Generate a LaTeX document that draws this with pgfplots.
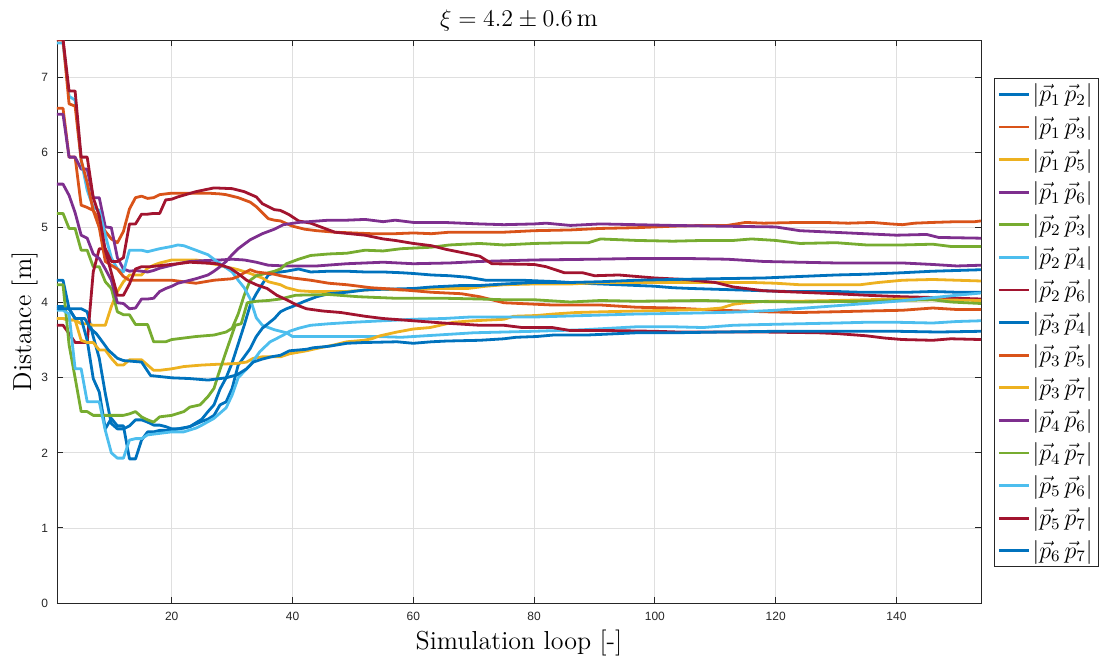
\documentclass[border=0pt]{standalone}
\usepackage{fontspec}
\setsansfont{Liberation Sans}
\usepackage{pgfplots}
\pgfplotsset{compat=1.18}
\definecolor{mblue}{rgb}{0,0.447,0.741}
\definecolor{morange}{rgb}{0.85,0.325,0.098}
\definecolor{myellow}{rgb}{0.929,0.694,0.125}
\definecolor{mpurple}{rgb}{0.494,0.184,0.556}
\definecolor{mgreen}{rgb}{0.466,0.674,0.188}
\definecolor{mlblue}{rgb}{0.301,0.745,0.933}
\definecolor{mred}{rgb}{0.635,0.078,0.184}
\definecolor{gridgray}{rgb}{0.875,0.875,0.875}
\definecolor{axisgray}{rgb}{0.15,0.15,0.15}
\begin{document}
\begin{tikzpicture}
\begin{axis}[
  scale only axis, width=462pt, height=281.5pt,
  at={(0,0)}, anchor=south west,
  xmin=1, xmax=154, ymin=0, ymax=7.5,
  xtick={20,40,...,140}, ytick={0,1,...,7},
  grid=major, major grid style={color=gridgray, line width=0.4pt},
  axis line style={color=axisgray, line width=0.45pt},
  tick style={color=axisgray, line width=0.45pt},
  tick align=inside, major tick length=3pt,
  /pgf/number format/assume math mode=true,
  ticklabel style={font=\fontsize{6}{7}\sffamily, text=axisgray},
  xticklabel style={yshift=-1pt},
  yticklabel style={xshift=-1pt},
  xlabel={Simulation loop [-]}, ylabel={Distance [m]},
  label style={font=\fontsize{13}{15}\selectfont},
  xlabel style={yshift=2pt},
  ylabel style={yshift=-5pt},
  title={$\xi = 4.2 \pm 0.6\,\mathrm{m}$},
  title style={font=\fontsize{13}{15}\selectfont, yshift=-5pt},
  legend style={at={(1.0141,0.9325)}, anchor=north west, draw=axisgray, line width=0.45pt,
    font=\fontsize{12}{14}\selectfont, fill=white, inner sep=1.5pt, row sep=3.4pt,
    nodes={inner sep=1.2pt}},
  legend cell align=left,
  legend image code/.code={\draw[#1, line width=1.4pt] (0pt,0pt) -- (15pt,0pt);},
  every axis plot/.append style={line width=1.4pt, line join=round},
]
% p1p2
\addplot[mblue] coordinates {(1,4.30)(2,4.30)(3,3.92)(4,3.92)(5,3.92)(6,3.88)(7,3.55)(8,3.26)(9,2.79)(10,2.39)(11,2.32)(12,2.32)(13,2.36)(14,2.44)(15,2.44)(16,2.41)(17,2.37)(18,2.37)(19,2.35)(20,2.32)(21,2.32)(22,2.33)(23,2.35)(24,2.40)(25,2.45)(26,2.55)(27,2.64)(28,2.85)(29,3.0)(30,3.20)(31,3.45)(32,3.70)(33,3.97)(34,4.12)(35,4.25)(36,4.37)(37,4.40)(39,4.42)(41,4.45)(43,4.41)(46,4.42)(49,4.42)(52,4.41)(55,4.41)(58,4.40)(60,4.39)(63,4.37)(66,4.36)(69,4.34)(72,4.30)(75,4.30)(78,4.30)(81,4.29)(84,4.28)(88,4.26)(91,4.25)(94,4.24)(97,4.23)(100,4.22)(103,4.20)(106,4.19)(110,4.18)(114,4.17)(118,4.16)(122,4.15)(126,4.15)(130,4.15)(134,4.14)(138,4.14)(142,4.14)(146,4.15)(150,4.14)(154,4.14)};
\addlegendentry{$|\vec{p}_1\,\vec{p}_2|$}
% p1p3
\addplot[morange] coordinates {(1,6.59)(2,6.59)(3,5.94)(4,5.94)(5,5.30)(6,5.27)(7,5.23)(8,5.10)(9,4.95)(10,4.85)(11,4.80)(12,4.95)(13,5.25)(14,5.40)(15,5.42)(16,5.39)(17,5.40)(18,5.44)(19,5.45)(20,5.46)(23,5.46)(26,5.46)(28,5.45)(29,5.44)(30,5.42)(31,5.40)(32,5.37)(33,5.34)(34,5.28)(35,5.20)(36,5.12)(37,5.10)(38,5.09)(40,5.02)(42,4.98)(44,4.96)(47,4.94)(50,4.93)(53,4.92)(57,4.92)(60,4.93)(63,4.92)(66,4.94)(71,4.94)(75,4.94)(80,4.96)(86,4.97)(91,4.99)(97,5.00)(103,5.02)(108,5.03)(112,5.03)(115,5.07)(118,5.06)(124,5.07)(128,5.07)(132,5.06)(136,5.07)(139,5.05)(141,5.04)(143,5.06)(146,5.07)(150,5.08)(153,5.08)(154,5.09)};
\addlegendentry{$|\vec{p}_1\,\vec{p}_3|$}
% p1p5
\addplot[myellow] coordinates {(1,3.79)(2,3.79)(3,3.77)(4,3.77)(5,3.72)(6,3.72)(7,3.70)(8,3.70)(9,3.70)(10,3.95)(11,4.15)(12,4.28)(13,4.37)(15,4.37)(16,4.46)(17,4.50)(18,4.53)(19,4.55)(20,4.57)(24,4.57)(25,4.56)(26,4.53)(28,4.50)(29,4.47)(30,4.46)(31,4.44)(33,4.39)(35,4.33)(36,4.28)(38,4.24)(39,4.20)(40,4.18)(41,4.16)(43,4.15)(46,4.15)(49,4.15)(52,4.17)(55,4.18)(58,4.17)(60,4.18)(63,4.19)(66,4.19)(69,4.19)(72,4.22)(75,4.24)(80,4.25)(86,4.25)(91,4.27)(97,4.27)(103,4.27)(111,4.27)(116,4.27)(120,4.26)(124,4.24)(128,4.24)(134,4.24)(137,4.27)(141,4.30)(146,4.31)(150,4.30)(154,4.29)};
\addlegendentry{$|\vec{p}_1\,\vec{p}_5|$}
% p1p6
\addplot[mpurple] coordinates {(1,6.51)(2,6.51)(3,5.94)(4,5.94)(5,5.78)(6,5.78)(7,5.40)(8,5.40)(9,5.01)(10,5.00)(11,4.60)(12,4.45)(13,4.42)(14,4.43)(15,4.42)(16,4.41)(17,4.43)(18,4.46)(20,4.50)(21,4.52)(23,4.55)(25,4.56)(28,4.57)(30,4.58)(32,4.57)(34,4.54)(36,4.50)(39,4.49)(44,4.49)(49,4.52)(55,4.54)(60,4.52)(66,4.53)(71,4.55)(80,4.57)(90,4.58)(97,4.59)(105,4.59)(112,4.58)(118,4.55)(124,4.54)(130,4.53)(141,4.53)(146,4.51)(150,4.49)(154,4.50)};
\addlegendentry{$|\vec{p}_1\,\vec{p}_6|$}
% p2p3
\addplot[mgreen] coordinates {(1,5.19)(2,5.19)(3,4.99)(4,4.99)(5,4.70)(6,4.70)(7,4.48)(8,4.48)(9,4.28)(10,4.19)(11,3.88)(12,3.84)(13,3.84)(14,3.71)(15,3.71)(16,3.71)(17,3.48)(18,3.48)(19,3.48)(20,3.51)(22,3.53)(24,3.55)(27,3.57)(29,3.61)(30,3.66)(31,3.85)(32,4.10)(33,4.30)(34,4.36)(35,4.38)(37,4.42)(38,4.45)(39,4.52)(41,4.58)(43,4.63)(46,4.65)(49,4.66)(52,4.70)(55,4.69)(58,4.72)(63,4.74)(66,4.77)(71,4.79)(75,4.77)(80,4.79)(86,4.80)(89,4.80)(91,4.85)(97,4.83)(103,4.82)(108,4.83)(113,4.83)(116,4.85)(120,4.83)(124,4.79)(130,4.80)(135,4.77)(141,4.77)(146,4.78)(149,4.75)(154,4.75)};
\addlegendentry{$|\vec{p}_2\,\vec{p}_3|$}
% p2p4
\addplot[mlblue] coordinates {(1,7.46)(2,7.46)(3,6.75)(4,6.70)(5,5.90)(6,5.50)(7,5.27)(8,5.23)(9,4.90)(10,4.60)(11,4.45)(12,4.41)(13,4.70)(14,4.70)(15,4.70)(16,4.68)(17,4.70)(18,4.72)(20,4.75)(21,4.77)(22,4.76)(23,4.73)(24,4.70)(26,4.64)(27,4.58)(28,4.52)(30,4.41)(31,4.30)(32,4.20)(33,4.05)(34,3.80)(35,3.70)(37,3.64)(39,3.60)(40,3.55)(45,3.55)(50,3.55)(54,3.55)(58,3.54)(62,3.56)(66,3.58)(70,3.60)(75,3.61)(80,3.62)(88,3.64)(97,3.68)(103,3.68)(108,3.67)(113,3.70)(118,3.71)(124,3.72)(130,3.73)(135,3.74)(140,3.74)(146,3.73)(150,3.75)(154,3.76)};
\addlegendentry{$|\vec{p}_2\,\vec{p}_4|$}
% p2p6
\addplot[mred] coordinates {(1,3.70)(2,3.70)(3,3.59)(4,3.47)(5,3.47)(6,3.47)(7,4.41)(8,4.72)(9,4.72)(10,4.55)(11,4.55)(12,4.60)(13,5.05)(14,5.05)(15,5.18)(16,5.18)(17,5.19)(18,5.19)(19,5.37)(20,5.38)(21,5.41)(24,5.48)(27,5.53)(30,5.52)(32,5.48)(34,5.41)(35,5.32)(37,5.24)(38,5.23)(39.5,5.17)(41,5.09)(43,5.06)(47,4.94)(52,4.90)(55,4.85)(57,4.83)(60,4.79)(63,4.76)(65.5,4.71)(68,4.67)(71,4.62)(73,4.52)(80,4.51)(82,4.48)(85,4.40)(88,4.40)(90,4.36)(94,4.37)(97,4.35)(100,4.33)(105,4.31)(110,4.27)(113,4.21)(118,4.16)(124,4.14)(130,4.12)(135,4.10)(141,4.08)(146,4.07)(150,4.06)(154,4.05)};
\addlegendentry{$|\vec{p}_2\,\vec{p}_6|$}
% p3p4
\addplot[mblue] coordinates {(1,3.95)(2,3.95)(3,3.92)(4,3.79)(5,3.79)(6,3.50)(7,2.99)(8,2.81)(9,2.32)(10,2.46)(11,2.36)(12,2.36)(13,1.92)(14,1.92)(15,2.17)(16,2.28)(17,2.28)(18,2.30)(20,2.30)(21,2.32)(23,2.35)(25,2.42)(26,2.45)(27,2.50)(28,2.64)(29,2.68)(30,2.86)(31,3.17)(32,3.28)(33,3.39)(34,3.55)(35,3.66)(37,3.79)(38,3.88)(39,3.92)(40,3.95)(42,4.02)(44,4.08)(46,4.12)(49,4.14)(52,4.17)(55,4.18)(60,4.19)(63,4.21)(68,4.23)(71,4.23)(75,4.25)(80,4.27)(86,4.27)(91,4.28)(97,4.30)(103,4.31)(110,4.32)(118,4.33)(124,4.35)(130,4.37)(135,4.38)(141,4.40)(146,4.42)(150,4.43)(154,4.44)};
\addlegendentry{$|\vec{p}_3\,\vec{p}_4|$}
% p3p5
\addplot[morange] coordinates {(1,7.50)(2,7.50)(3,6.65)(4,6.62)(5,5.90)(6,5.60)(7,5.23)(8,5.00)(9,4.55)(10,4.50)(11,4.45)(12,4.35)(13,4.30)(14,4.30)(20,4.30)(22,4.28)(24,4.26)(27,4.30)(30,4.32)(31,4.35)(32,4.40)(33,4.44)(34,4.41)(37,4.38)(38,4.36)(40,4.33)(43,4.30)(46,4.26)(49,4.24)(53,4.20)(57,4.18)(60,4.16)(63,4.14)(68,4.12)(71,4.08)(75,4.00)(83,3.97)(91,3.97)(97,3.94)(103,3.93)(108,3.91)(111,3.90)(118,3.88)(124,3.87)(130,3.88)(135,3.89)(141,3.90)(146,3.93)(150,3.91)(154,3.91)};
\addlegendentry{$|\vec{p}_3\,\vec{p}_5|$}
% p3p7
\addplot[myellow] coordinates {(1,3.79)(2,3.79)(3,3.77)(4,3.77)(5,3.50)(6,3.47)(7,3.47)(8,3.37)(9,3.37)(10,3.26)(11,3.17)(12,3.17)(13,3.24)(15,3.24)(16,3.17)(17,3.10)(18,3.10)(20,3.12)(22,3.15)(25,3.17)(27.5,3.18)(30.6,3.19)(32.4,3.21)(33.5,3.26)(35,3.28)(38,3.28)(39.5,3.32)(42.3,3.36)(44.5,3.40)(47,3.44)(49,3.48)(51.8,3.50)(53.1,3.52)(54.5,3.56)(57.3,3.61)(60,3.65)(62.8,3.67)(66.6,3.74)(70,3.76)(75,3.78)(76.6,3.82)(80.4,3.83)(83.2,3.85)(87,3.87)(91.5,3.88)(97,3.89)(102.5,3.90)(108,3.91)(111,3.93)(113,3.98)(115,4.00)(118.5,4.02)(124,4.02)(130,4.03)(135,4.04)(141,4.05)(146,4.04)(154,4.03)};
\addlegendentry{$|\vec{p}_3\,\vec{p}_7|$}
% p4p6
\addplot[mpurple] coordinates {(1,5.58)(2,5.58)(3,5.43)(4,5.20)(5,4.90)(6,4.86)(7,4.65)(8,4.59)(9,4.45)(10,4.30)(11,4.00)(12,3.99)(13,3.92)(14,3.93)(15,4.05)(16,4.05)(17,4.06)(18,4.15)(19,4.19)(20,4.22)(21,4.26)(22,4.28)(24,4.32)(26,4.37)(27,4.42)(28,4.48)(29,4.55)(30,4.64)(31,4.72)(32,4.78)(33,4.84)(35,4.92)(37,4.98)(38.5,5.04)(41,5.07)(46,5.10)(49,5.10)(52,5.11)(55,5.08)(57,5.10)(60,5.07)(65,5.07)(71,5.05)(75,5.04)(80,5.05)(82,5.06)(86,5.03)(91,5.05)(97,5.04)(103,5.03)(111,5.02)(120,5.01)(124,4.96)(132,4.93)(140,4.90)(145,4.91)(147,4.87)(154,4.86)};
\addlegendentry{$|\vec{p}_4\,\vec{p}_6|$}
% p4p7
\addplot[mgreen] coordinates {(1,4.24)(2,4.24)(3,3.44)(4,3.00)(5,2.55)(6,2.55)(7,2.50)(12,2.50)(13,2.52)(14,2.55)(15,2.48)(16,2.44)(17,2.41)(18,2.48)(20,2.50)(22,2.55)(23,2.61)(24.7,2.64)(26,2.75)(27,2.86)(27.7,3.04)(29,3.35)(30.5,3.70)(31.5,3.72)(32.5,4.00)(34,4.02)(36,4.03)(38,4.05)(40.5,4.10)(46,4.11)(51,4.08)(57,4.06)(65,4.06)(71,4.05)(75,4.04)(80,4.04)(86,4.01)(91,4.03)(97,4.02)(108,4.03)(113,4.02)(124,4.01)(135,4.02)(146,4.04)(149,4.01)(154,3.99)};
\addlegendentry{$|\vec{p}_4\,\vec{p}_7|$}
% p5p6
\addplot[mlblue] coordinates {(1,3.90)(2,3.90)(3,3.85)(4,3.12)(5,3.12)(6,2.68)(7,2.68)(8,2.68)(9,2.30)(10,2.00)(11,1.93)(12,1.93)(13,2.17)(14,2.19)(15,2.19)(16,2.24)(18,2.26)(20,2.28)(22,2.28)(24,2.33)(25,2.37)(27,2.46)(29,2.60)(30,2.77)(31,3.00)(33,3.17)(34.6,3.35)(36.3,3.48)(38.5,3.57)(39.5,3.62)(41,3.66)(43,3.70)(46,3.72)(50,3.74)(55,3.76)(60,3.78)(65,3.79)(69.4,3.81)(80,3.81)(88.6,3.83)(97,3.85)(105,3.86)(110.8,3.87)(115,3.88)(120,3.90)(125,3.93)(130,3.96)(135,3.99)(140,4.02)(145,4.06)(150,4.10)(154,4.13)};
\addlegendentry{$|\vec{p}_5\,\vec{p}_6|$}
% p5p7
\addplot[mred] coordinates {(1,7.51)(2,7.51)(3,6.82)(4,6.82)(5,5.94)(6,5.94)(7,5.40)(8,5.16)(9,4.70)(10,4.40)(11,4.10)(12,4.10)(13,4.25)(14,4.45)(15,4.48)(16.4,4.48)(21,4.52)(23,4.54)(27.5,4.52)(29.7,4.46)(31.3,4.37)(32.4,4.30)(34,4.24)(35.8,4.19)(37.4,4.10)(39,4.04)(40.7,3.97)(42.3,3.92)(45,3.89)(48,3.87)(52,3.82)(55,3.79)(60,3.76)(65,3.73)(71,3.70)(75,3.70)(78,3.67)(83,3.67)(86,3.63)(92,3.63)(100,3.62)(104,3.61)(111,3.61)(118,3.61)(127,3.60)(130,3.59)(135,3.56)(138,3.53)(141,3.51)(146,3.50)(149,3.52)(154,3.51)};
\addlegendentry{$|\vec{p}_5\,\vec{p}_7|$}
% p6p7
\addplot[mblue] coordinates {(1,3.92)(3,3.92)(4,3.79)(5.6,3.79)(6.5,3.66)(7.5,3.59)(8.7,3.46)(9.5,3.37)(11,3.26)(12,3.23)(15,3.21)(16.5,3.03)(20,3.00)(23,2.99)(26,2.97)(29,3.00)(30.8,3.04)(32.4,3.12)(33.5,3.21)(35,3.25)(36.5,3.28)(38,3.30)(39.5,3.36)(42.3,3.38)(43.4,3.40)(46,3.42)(49,3.46)(51.8,3.47)(57.3,3.48)(60,3.46)(63,3.48)(65.5,3.49)(71,3.50)(75,3.52)(77,3.54)(80.4,3.55)(83.2,3.57)(88.7,3.57)(91.5,3.58)(97,3.60)(103,3.60)(111,3.61)(120,3.62)(130,3.62)(140,3.62)(147,3.61)(154,3.62)};
\addlegendentry{$|\vec{p}_6\,\vec{p}_7|$}
\end{axis}
\pgfresetboundingbox
\useasboundingbox (-28.5pt,-29pt) rectangle (524.5pt,301.5pt);
\end{tikzpicture}
\end{document}
